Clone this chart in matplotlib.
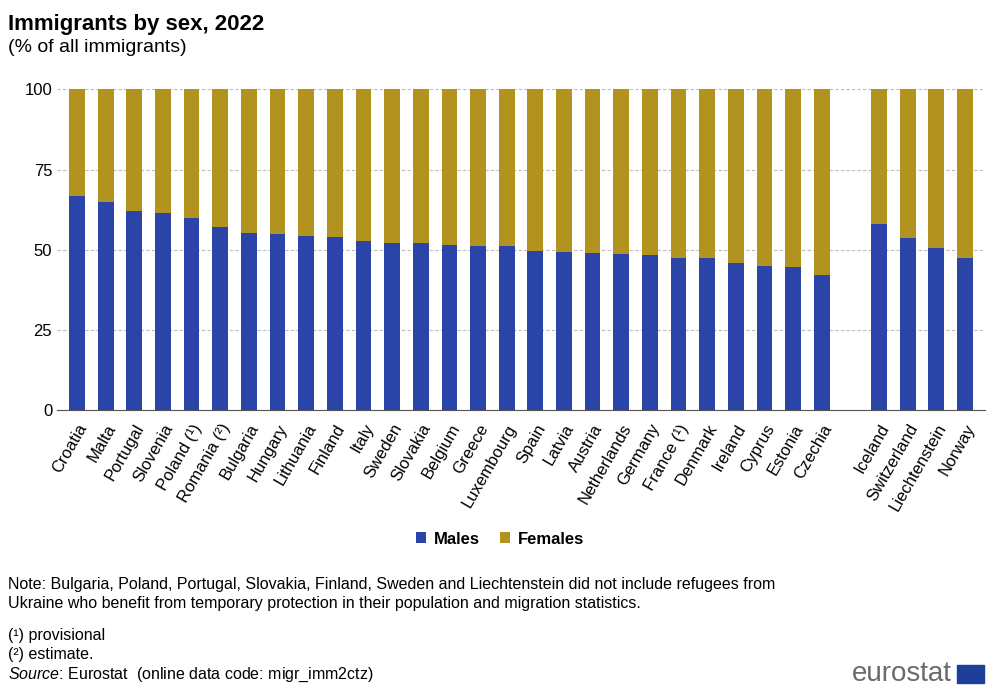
import matplotlib
matplotlib.use("Agg")
import matplotlib.pyplot as plt
import numpy as np

plt.rcParams["font.family"] = ["Liberation Sans", "DejaVu Sans"]
plt.rcParams["mathtext.fontset"] = "custom"
plt.rcParams["mathtext.it"] = "Liberation Sans:italic"

countries = ["Croatia","Malta","Portugal","Slovenia","Poland (¹)","Romania (²)","Bulgaria","Hungary",
             "Lithuania","Finland","Italy","Sweden","Slovakia","Belgium","Greece","Luxembourg","Spain",
             "Latvia","Austria","Netherlands","Germany","France (¹)","Denmark","Ireland","Cyprus",
             "Estonia","Czechia","","Iceland","Switzerland","Liechtenstein","Norway"]
males = [66.7,64.8,62.0,61.4,59.8,57.0,55.2,55.0,54.2,54.1,52.7,52.1,52.0,51.5,51.2,51.1,49.6,
         49.3,48.9,48.7,48.3,47.5,47.4,45.9,45.1,44.5,42.0,np.nan,58.2,53.6,50.6,47.3]
females = [100 - m for m in males]

fig = plt.figure(figsize=(10, 6.93), dpi=100)
ax = fig.add_axes([0.057, 0.408, 0.928, 0.463])
x = np.arange(len(countries))
blue, gold = "#2a44a8", "#b39320"
ax.bar(x, males, width=0.55, color=blue, label="Males")
ax.bar(x, females, width=0.55, bottom=males, color=gold, label="Females")
ax.set_xlim(-0.7, len(countries) - 0.3)
ax.set_ylim(0, 100)
ax.set_yticks([0, 25, 50, 75, 100])
ax.yaxis.grid(True, color="#bdbdbd", linestyle=(0, (3, 2)), linewidth=0.8)
ax.set_axisbelow(True)
for s in ["top", "right", "left"]:
    ax.spines[s].set_visible(False)
ax.spines["bottom"].set_color("#555555")
ax.tick_params(axis="y", length=0, labelsize=12)
ax.tick_params(axis="x", length=0, labelsize=12, pad=8)
ax.set_xticks(x)
ax.set_xticklabels(countries, rotation=60, ha="right", rotation_mode="anchor")

fig.legend(loc="center", bbox_to_anchor=(0.5, 0.222), ncol=2, frameon=False,
           handlelength=0.6, handleheight=0.6, columnspacing=1.2, handletextpad=0.5,
           prop={"weight": "bold", "size": 12})

fig.text(0.008, 0.965, "Immigrants by sex, 2022", fontsize=16, weight="bold", va="center")
fig.text(0.008, 0.932, "(% of all immigrants)", fontsize=14, va="center")
fig.text(0.008, 0.143, "Note: Bulgaria, Poland, Portugal, Slovakia, Finland, Sweden and Liechtenstein did not include refugees from\n"
         "Ukraine who benefit from temporary protection in their population and migration statistics.",
         fontsize=11.5, va="center", linespacing=1.3)
fig.text(0.008, 0.083, "(¹) provisional", fontsize=11.5, va="center")
fig.text(0.008, 0.056, "(²) estimate.", fontsize=11.5, va="center")
fig.text(0.008, 0.026, r"$\it{Source}$: Eurostat  (online data code: migr_imm2ctz)", fontsize=11.5, va="center")
fig.text(0.952, 0.027, "eurostat", fontsize=20, color="#6b6b6b", ha="right", va="center")
fig.patches.append(plt.Rectangle((0.957, 0.014), 0.027, 0.027, transform=fig.transFigure, color="#1d3f9a"))

fig.savefig("out.png", dpi=100)
